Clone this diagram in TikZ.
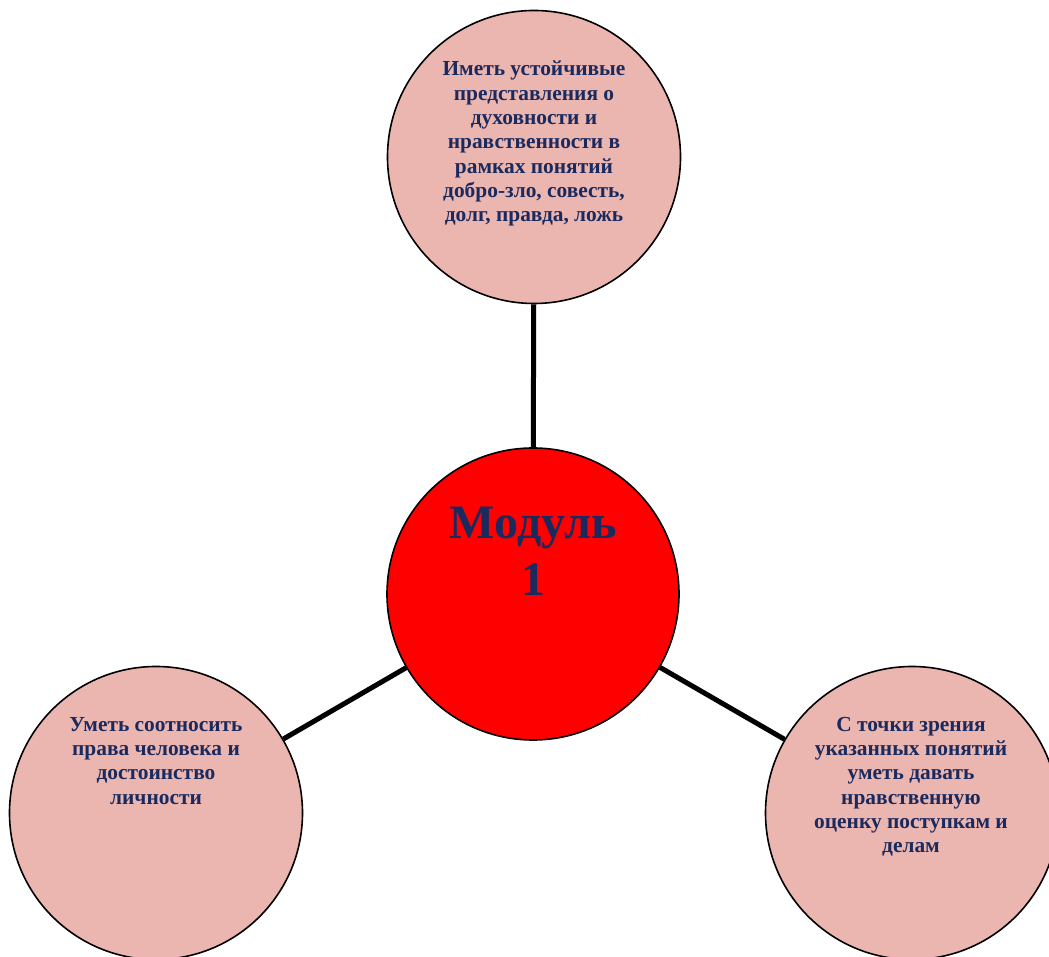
\documentclass[tikz,border=0pt]{standalone}
\usepackage{fontspec}
\setmainfont{Liberation Serif}
\definecolor{pinkfill}{HTML}{EBB5B0}
\definecolor{navytext}{HTML}{1B2A5E}
\definecolor{redfill}{HTML}{FF0000}
\begin{document}
\begin{tikzpicture}[x=1pt,y=1pt,
  bubble/.style={circle,draw=black,line width=1.6pt,fill=pinkfill,minimum size=293pt,inner sep=0pt},
  hub/.style={circle,draw=black,line width=1.6pt,fill=redfill,minimum size=292pt,inner sep=0pt},
  label/.style={anchor=north,align=center,inner sep=0pt,text=navytext,font=\bfseries\fontsize{21.4}{24.3}\selectfont},
  titlelabel/.style={anchor=north,align=center,inner sep=0pt,text=navytext,font=\bfseries\fontsize{48}{57}\selectfont},
  link/.style={line width=5pt,black}]
\useasboundingbox (0,0) rectangle (1049,956);
\clip (0,0) rectangle (1049,956);
\node[bubble] (top) at (534,799) {};
\node[hub] (mid) at (533,362) {};
\node[bubble] (left) at (156,143) {};
\node[bubble] (right) at (912,143) {};
\draw[link] (top) -- (mid);
\draw[link] (left) -- (mid);
\draw[link] (right) -- (mid);
\node[label] (ttop) at (534,895) {Иметь устойчивые\\представления о\\духовности и\\нравственности в\\рамках понятий\\добро-зло, совесть,\\долг, правда, ложь};
\node[titlelabel] (tmid) at (533,449) {Модуль\\1};
\node[label] (tleft) at (156,239) {Уметь соотносить\\права человека и\\достоинство\\личности};
\node[label] (tright) at (911,239) {С точки зрения\\указанных понятий\\уметь давать\\нравственную\\оценку поступкам и\\делам};
\end{tikzpicture}
\end{document}
